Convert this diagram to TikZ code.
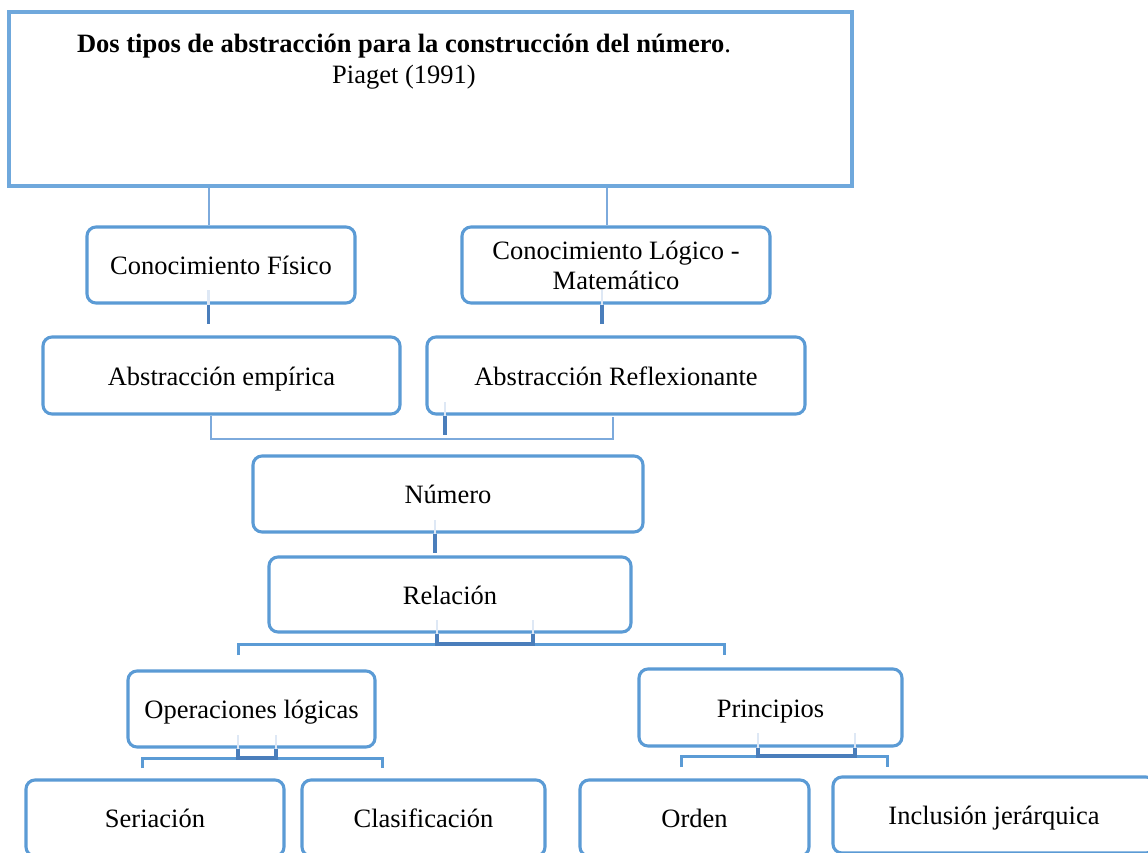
\documentclass[tikz,border=0pt]{standalone}
\usepackage{fontspec}
\setmainfont{Liberation Serif}
\definecolor{boxblue}{RGB}{91,155,213}
\definecolor{topblue}{RGB}{111,168,220}
\definecolor{darkln}{RGB}{74,126,187}
\definecolor{lightln}{RGB}{125,170,220}
\definecolor{faintln}{RGB}{222,232,245}
\tikzset{
  txt/.style={font=\fontsize{26.5}{30}\selectfont, inner sep=0pt},
  box/.style={txt, draw=boxblue, line width=3.1pt, rounded corners=9pt, fill=white},
  oneline/.style={text height=22pt, text depth=3pt},
  dk/.style={draw=darkln, line width=3.2pt},
  md/.style={draw=boxblue, line width=3pt},
  lt/.style={draw=lightln, line width=2pt},
  fnt/.style={draw=faintln, line width=2.5pt},
}
\begin{document}
\begin{tikzpicture}[x=1pt,y=-1pt]
\useasboundingbox (0,0) rectangle (1148,852);
\clip (0,0) rectangle (1148,852);
\fill[white] (0,0) rectangle (1148,852);
% boxes
\node[draw=topblue, line width=3.1pt, fill=white, minimum width=843pt, minimum height=174pt, inner sep=0pt] (top) at (430.5,99) {};
\node[txt, anchor=base] (title) at (404,52) {\textbf{Dos tipos de abstracción para la construcción del número}.};
\node[txt, anchor=base] (author) at (404,83) {Piaget (1991)};
\node[box, oneline, minimum width=268pt, minimum height=76pt] (cf) at (221,265) {Conocimiento Físico};
\node[box, align=center, minimum width=308pt, minimum height=76pt] (clm) at (616,265) {Conocimiento Lógico -\\Matemático};
\node[box, oneline, minimum width=357pt, minimum height=77pt] (ae) at (221.5,375.5) {Abstracción empírica};
\node[box, oneline, minimum width=378pt, minimum height=77pt] (ar) at (616,375.5) {Abstracción Reflexionante};
\node[box, oneline, minimum width=390pt, minimum height=76pt] (num) at (448,494) {Número};
\node[box, oneline, minimum width=362pt, minimum height=75pt] (rel) at (450,594.5) {Relación};
\node[box, oneline, minimum width=247pt, minimum height=76pt] (ol) at (251.5,709) {Operaciones lógicas};
\node[box, oneline, minimum width=263pt, minimum height=77pt] (pr) at (770.5,707.5) {Principios};
\node[box, oneline, minimum width=258pt, minimum height=76pt] (ser) at (155,818) {Seriación};
\node[box, oneline, minimum width=243pt, minimum height=76pt] (cla) at (423.5,818) {Clasificación};
\node[box, oneline, minimum width=229pt, minimum height=76pt] (ord) at (694.5,818) {Orden};
\node[box, oneline, minimum width=322pt, minimum height=76pt] (inc) at (994,815) {Inclusión jerárquica};
% x positions of connectors
\coordinate (xa) at (209,0);
\coordinate (xb) at (607,0);
\coordinate (xc) at (208.6,0);
\coordinate (xd) at (602,0);
% top -> first level
\draw[lt] (xa |- top.south) -- (xa |- cf.north);
\draw[lt] (xb |- top.south) -- (xb |- clm.north);
% first -> second level
\coordinate (c1) at (208.6,290);
\coordinate (c2) at (208.6,324);
\draw[fnt] (c1) -- (xc |- cf.south);
\draw[dk] (xc |- cf.south) -- (c2);
\coordinate (d1) at (602,290);
\coordinate (d2) at (602,324);
\draw[fnt] (d1) -- (xd |- clm.south);
\draw[dk] (xd |- clm.south) -- (d2);
% bracket to Numero
\coordinate (e1) at (211,416);
\coordinate (e2) at (211,439);
\coordinate (f2) at (613,439);
\coordinate (f1) at (613,417);
\draw[lt] (e1) -- (e2) -- (f2) -- (f1);
\coordinate (g0) at (445,402);
\coordinate (g2) at (445,435);
\draw[fnt] (g0) -- (g0 |- ar.south);
\draw[dk] (g0 |- ar.south) -- (g2);
% Numero -> Relacion
\coordinate (h0) at (435,520);
\coordinate (h2) at (435,553);
\draw[fnt] (h0) -- (h0 |- num.south);
\draw[dk] (h0 |- num.south) -- (h2);
% Relacion bracket
\coordinate (i0) at (437,620);
\coordinate (j0) at (533,620);
\coordinate (i2) at (437,644);
\coordinate (j2) at (533,644);
\coordinate (k1) at (238,655);
\coordinate (k2) at (238,644);
\coordinate (l2) at (724,644);
\coordinate (l1) at (724,655);
\draw[md] (k1) -- (k2) -- (l2) -- (l1);
\draw[fnt] (i0) -- (i0 |- rel.south);
\draw[fnt] (j0) -- (j0 |- rel.south);
\draw[dk] (i0 |- rel.south) -- (i2) -- (j2) -- (j0 |- rel.south);
% Operaciones bracket
\coordinate (m0) at (238,735);
\coordinate (n0) at (276,735);
\coordinate (m2) at (238,758);
\coordinate (n2) at (276,758);
\coordinate (o1) at (142,768);
\coordinate (o2) at (142,758);
\coordinate (p2) at (382,758);
\coordinate (p1) at (382,768);
\draw[md] (o1) -- (o2) -- (p2) -- (p1);
\draw[fnt] (m0) -- (m0 |- ol.south);
\draw[fnt] (n0) -- (n0 |- ol.south);
\draw[dk] (m0 |- ol.south) -- (m2) -- (n2) -- (n0 |- ol.south);
% Principios bracket
\coordinate (q0) at (758,733);
\coordinate (r0) at (855,733);
\coordinate (q2) at (758,756);
\coordinate (r2) at (855,756);
\coordinate (s1) at (681,767);
\coordinate (s2) at (681,756);
\coordinate (t2) at (887,756);
\coordinate (t1) at (887,767);
\draw[md] (s1) -- (s2) -- (t2) -- (t1);
\draw[fnt] (q0) -- (q0 |- pr.south);
\draw[fnt] (r0) -- (r0 |- pr.south);
\draw[dk] (q0 |- pr.south) -- (q2) -- (r2) -- (r0 |- pr.south);
\end{tikzpicture}
\end{document}
